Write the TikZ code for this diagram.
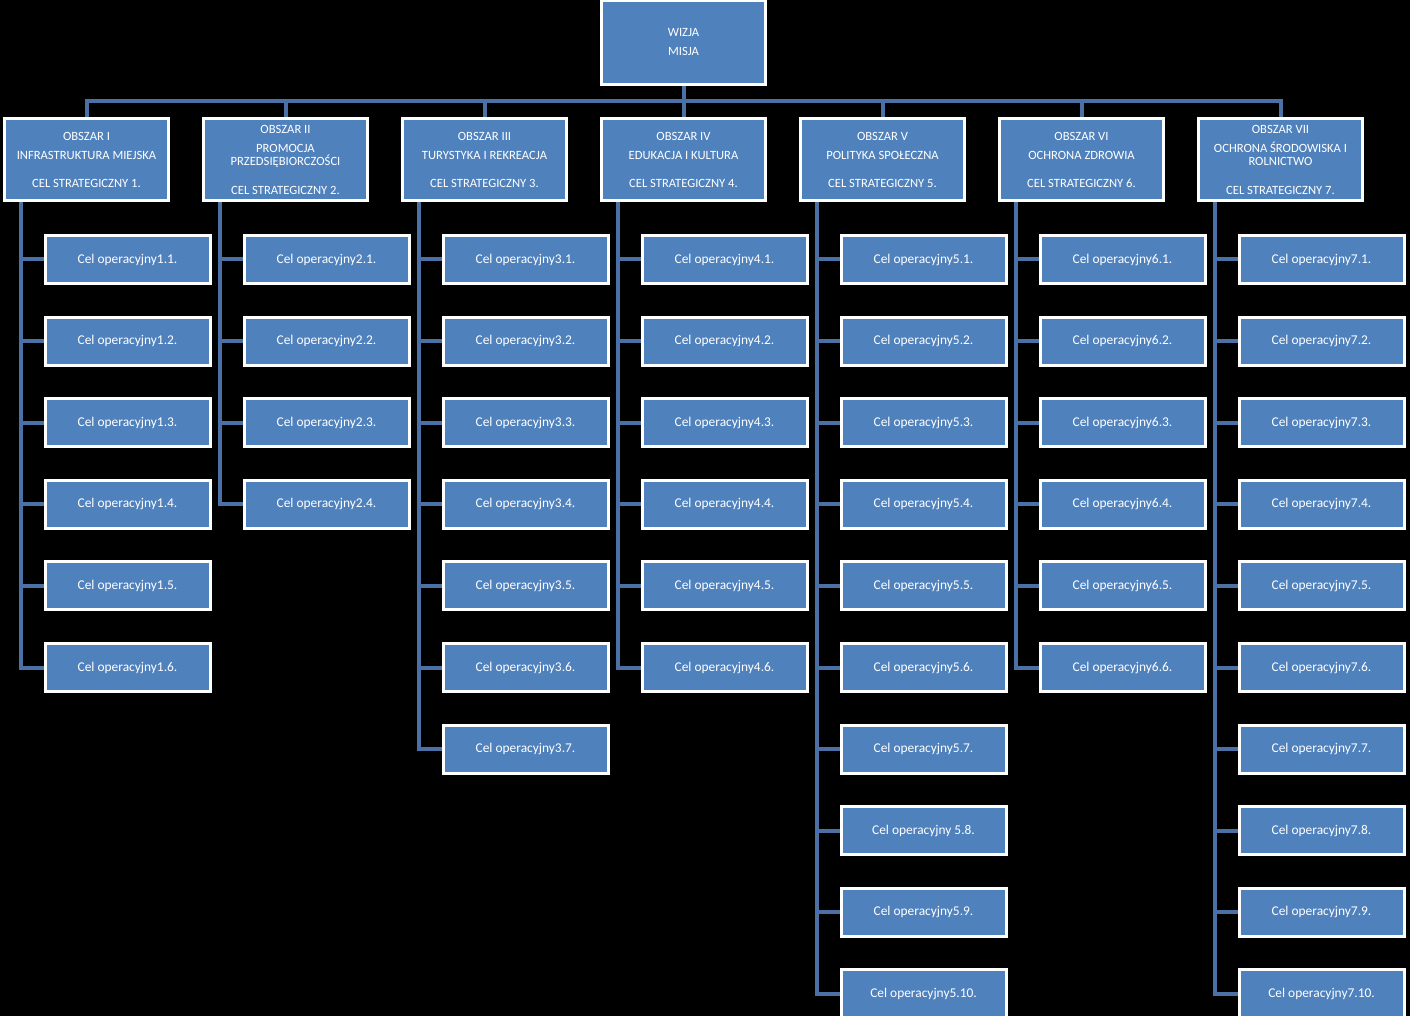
\documentclass[tikz,border=0pt]{standalone}
\usepackage{fontspec}
\setmainfont{Carlito}
\usetikzlibrary{backgrounds}

\definecolor{boxblue}{RGB}{79,129,189}
\definecolor{linkblue}{RGB}{74,112,166}

\tikzset{
  box/.style={draw=white,line width=1.5pt,fill=boxblue,text=white,align=center,inner sep=0pt},
  areabox/.style={box,minimum width=82pt,minimum height=41pt,font=\fontsize{6.3}{9.5}\selectfont},
  goalbox/.style={box,minimum width=82.5pt,minimum height=24pt,font=\fontsize{6.7}{8}\selectfont},
  link/.style={draw=linkblue,line width=2pt},
}

\begin{document}
\begin{tikzpicture}[x=0.5pt,y=-0.5pt]
  \useasboundingbox (0,0) rectangle (1410,1016);
  \node[areabox,minimum height=42pt] (wizja) at (683.5,42.5) {WIZJA\\MISJA};
  \coordinate (bus) at (0,101);
  \node[areabox] (ob1) at (86.5,159.5) {OBSZAR I\\INFRASTRUKTURA MIEJSKA\\[4.5pt]CEL STRATEGICZNY 1.};
  \node[areabox] (ob2) at (285.5,159.5) {OBSZAR II\\PROMOCJA\\[-3pt]PRZEDSIĘBIORCZOŚCI\\[5pt]CEL STRATEGICZNY 2.};
  \node[areabox] (ob3) at (484.5,159.5) {OBSZAR III\\TURYSTYKA I REKREACJA\\[4.5pt]CEL STRATEGICZNY 3.};
  \node[areabox] (ob4) at (683.5,159.5) {OBSZAR IV\\EDUKACJA I KULTURA\\[4.5pt]CEL STRATEGICZNY 4.};
  \node[areabox] (ob5) at (882.5,159.5) {OBSZAR V\\POLITYKA SPOŁECZNA\\[4.5pt]CEL STRATEGICZNY 5.};
  \node[areabox] (ob6) at (1081.5,159.5) {OBSZAR VI\\OCHRONA ZDROWIA\\[4.5pt]CEL STRATEGICZNY 6.};
  \node[areabox] (ob7) at (1280.5,159.5) {OBSZAR VII\\OCHRONA ŚRODOWISKA I\\[-3pt]ROLNICTWO\\[5pt]CEL STRATEGICZNY 7.};
  \foreach \k/\n in {1/6,2/4,3/7,4/6,5/10,6/6,7/10}
    \foreach \j in {1,...,\n}
      \node[goalbox] (c\k-\j) at ({127.5+199*(\k-1)},{259.5+81.6*(\j-1)})
        {Cel operacyjny\ifnum\k\j=58\relax\ \fi\k.\j.};
  \begin{scope}[on background layer]
    \fill[black] (0,0) rectangle (1410,1016);
    \foreach \k in {1,...,7}
      \draw[link] (wizja.south) -- (wizja.south |- bus) -| (ob\k.north);
    \foreach \k/\n in {1/6,2/4,3/7,4/6,5/10,6/6,7/10}
      \foreach \j in {1,...,\n}
        \draw[link] (ob\k.south west) ++(17.5,0) |- (c\k-\j.west);
  \end{scope}
\end{tikzpicture}
\end{document}
